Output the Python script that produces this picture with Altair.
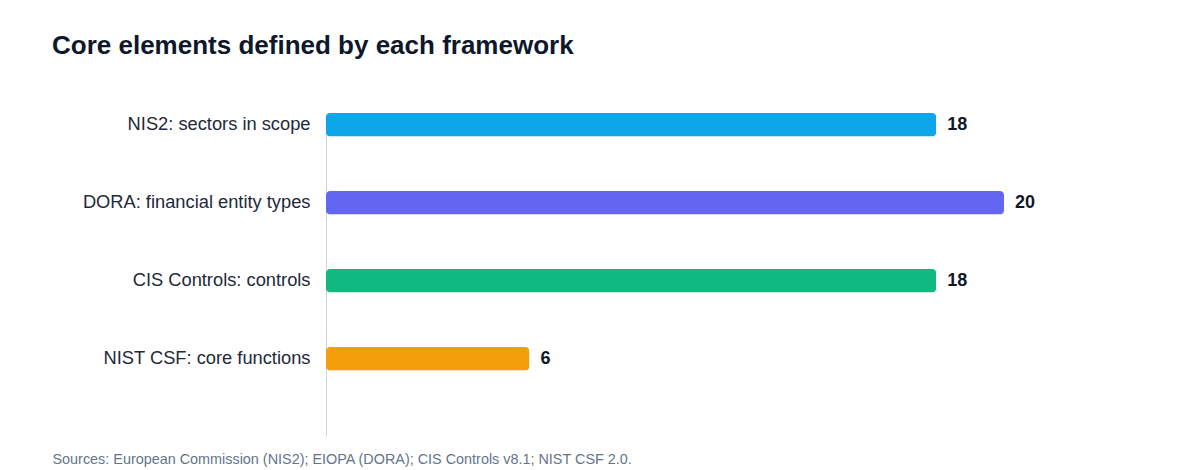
import altair as alt
import pandas as pd

# framework counts
frameworks = [
    "NIS2: sectors in scope",
    "DORA: financial entity types",
    "CIS Controls: controls",
    "NIST CSF: core functions",
]
counts = [18, 20, 18, 6]
colors = ["#0EA5E9", "#6366F1", "#10B981", "#F59E0B"]

title = "Core elements defined by each framework"
source = "Sources: European Commission (NIS2); EIOPA (DORA); CIS Controls v8.1; NIST CSF 2.0."

df = pd.DataFrame({"framework": frameworks, "count": counts})

y = alt.Y(
    "framework:N",
    sort=frameworks,
    title=None,
    scale=alt.Scale(paddingInner=0.7, paddingOuter=0.42, align=0),
    axis=alt.Axis(
        ticks=False,
        labelPadding=16,
        labelFontSize=18.3,
        labelLimit=300,
        labelColor="#1e293b",
        domainColor="#cbd5e1",
        domainWidth=1,
        minExtent=274,
        maxExtent=274,
    ),
)
x = alt.X(
    "count:Q",
    scale=alt.Scale(domain=[0, 20], nice=False),
    axis=alt.Axis(
        title=source,
        labels=False,
        ticks=False,
        domain=False,
        grid=False,
        titleX=-274,
        titleY=27,
        titleAlign="left",
        titleBaseline="alphabetic",
        titleFontSize=14.4,
        titleFontWeight="normal",
        titleColor="#64748b",
    ),
)

base = alt.Chart(df).encode(x=x, y=y)

bars = base.mark_bar(cornerRadius=4).encode(
    color=alt.Color("framework:N", scale=alt.Scale(domain=frameworks, range=colors), legend=None)
)

values = base.mark_text(
    align="left", baseline="middle", dx=11, fontSize=18, fontWeight="bold", color="#0f172a"
).encode(text="count:Q")

chart = (
    (bars + values)
    .properties(
        width=678,
        height=323,
        padding={"left": 44, "top": 25, "right": 40, "bottom": 10},
        title=alt.TitleParams(
            title,
            anchor="start",
            frame="bounds",
            fontSize=26,
            fontWeight="bold",
            color="#0f172a",
            offset=54,
        ),
    )
    .configure(font="Liberation Sans")
    .configure_view(stroke=None)
)

chart.save("out.html", embed_options={"renderer": "svg", "actions": False})
